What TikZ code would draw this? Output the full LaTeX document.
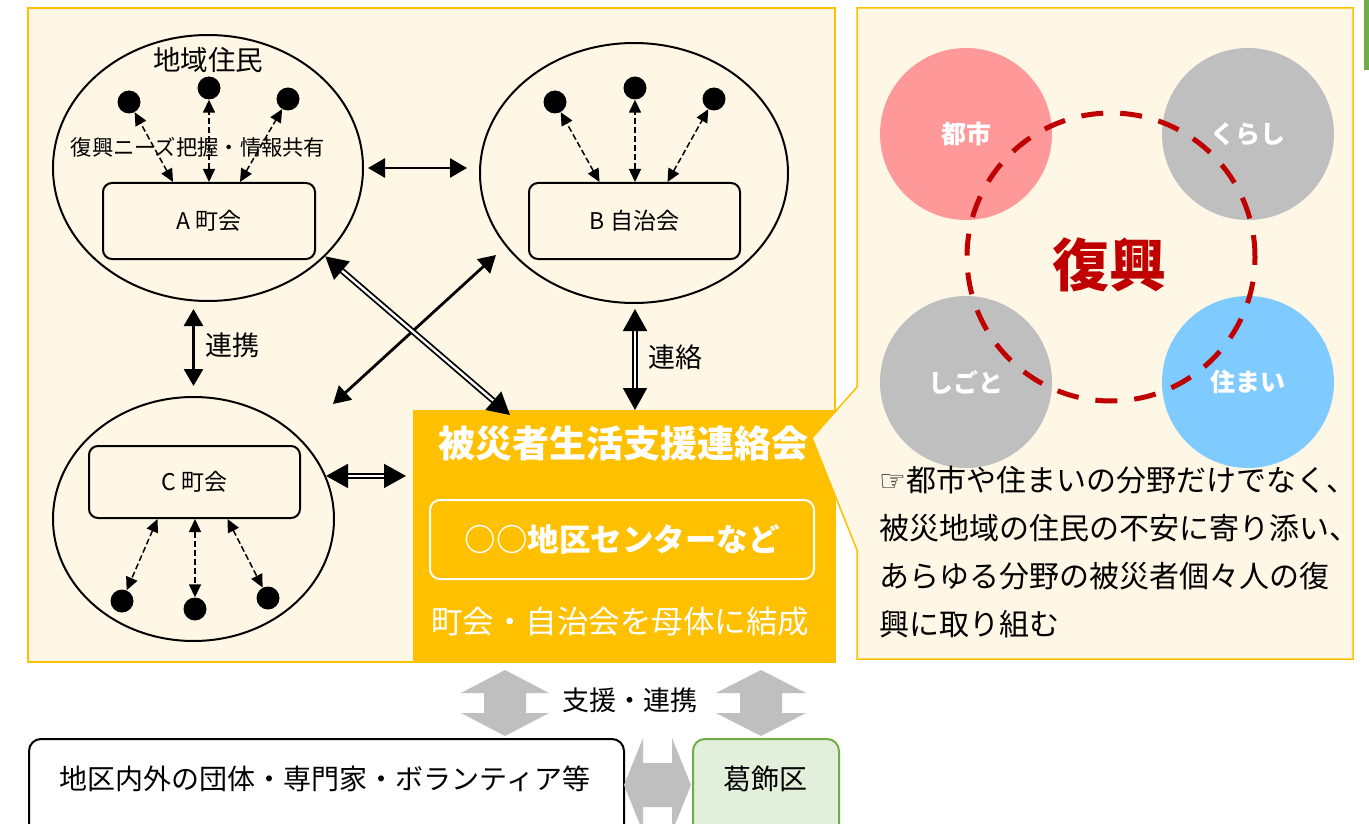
\documentclass[tikz,border=0pt]{standalone}
\usepackage{fontspec}
\setmainfont{Noto Sans CJK JP}
\newfontfamily\symfont{DejaVu Sans}
\usetikzlibrary{arrows.meta,shapes.geometric,calc,positioning}

\begin{document}
\begin{tikzpicture}[x=1pt,y=-1pt,
  every node/.style={inner sep=0pt},
  area/.style={ellipse,draw,line width=2pt},
  kai/.style={rectangle,draw,line width=2pt,rounded corners=9pt,font=\fontsize{23}{27}\selectfont},
  jumin/.style={circle,fill=black,minimum size=23pt},
  info/.style={dash pattern=on 6pt off 3pt,line width=1.5pt,{Triangle[length=13pt,width=12pt]}-{Triangle[length=13pt,width=12pt]}},
  link/.style={line width=2.8pt,{Triangle[length=17pt,width=19pt]}-{Triangle[length=17pt,width=19pt]}},
  dlink/.style={double,double distance=2.4pt,line width=1.8pt,{Triangle[length=22pt,width=24pt]}-{Triangle[length=22pt,width=24pt]}},
  bunya/.style={circle,minimum size=172pt,text=white,font=\fontsize{25}{28}\selectfont\bfseries}]

% ------------------------------------------------ theme colors
\definecolor{kr_cream}{RGB}{255,247,230}  %#FFF7E6
\definecolor{kr_orange}{RGB}{255,192,0}   %#FFC000
\definecolor{kr_pink}{RGB}{255,153,153}   %#FF9999
\definecolor{kr_gray}{RGB}{191,191,191}   %#BFBFBF
\definecolor{kr_blue}{RGB}{127,202,255}   %#7FCAFF
\definecolor{kr_red}{RGB}{192,0,0}        %#C00000
\definecolor{kr_green}{RGB}{112,173,71}   %#70AD47
\definecolor{kr_lgreen}{RGB}{226,239,218} %#E2EFDA

\useasboundingbox (0,0) rectangle (1369,824);
\fill[kr_green] (1364,0) rectangle (1369,70);

% ------------------------------------------------ left panel
\draw[fill=kr_cream,draw=kr_orange,line width=1.5pt] (28,8) rectangle (835,662);
\node[fill=kr_orange,minimum width=422pt,minimum height=252pt,anchor=north west] (org) at (413,410) {};

\node[area,minimum width=310pt,minimum height=266pt] (eA) at (208,168) {};
\node[area,minimum width=308pt,minimum height=260pt] (eB) at (634,173) {};
\node[area,minimum width=281pt,minimum height=244pt] (eC) at (193.5,519) {};

\node[kai,minimum width=212pt,minimum height=76pt] (kA) at (209,221) {A 町会};
\node[kai,minimum width=211pt,minimum height=76pt] (kB) at (634.5,221) {B 自治会};
\node[kai,minimum width=211pt,minimum height=72pt] (kC) at (194.5,482) {C 町会};

\node[font=\fontsize{27.5}{30}\selectfont] (jumin) at (208,60) {地域住民};
\node[font=\fontsize{21.3}{24}\selectfont] (needs) at (198,147) {復興ニーズ把握・情報共有};

\node[jumin] (a1) at (129,102) {};
\node[jumin] (a2) at (209,88) {};
\node[jumin] (a3) at (288,99) {};
\node[jumin] (b1) at (555,102) {};
\node[jumin] (b2) at (635,88) {};
\node[jumin] (b3) at (714,99) {};
\node[jumin] (c1) at (122,601) {};
\node[jumin] (c2) at (195,609) {};
\node[jumin] (c3) at (268,598) {};

\draw[info] ($(kA.north)+(-36,0)$) -- (a1);
\draw[info] (a2 |- kA.north) -- (a2);
\draw[info] ($(kA.north)+(31,0)$) -- (a3);
\draw[info] ($(kB.north)+(-35,0)$) -- (b1);
\draw[info] (b2 |- kB.north) -- (b2);
\draw[info] ($(kB.north)+(33,0)$) -- (b3);
\draw[info] ($(kC.south)+(-37,0)$) -- (c1);
\draw[info] (c2 |- kC.south) -- (c2);
\draw[info] ($(kC.south)+(33,0)$) -- (c3);

\draw[link] ([xshift=4pt]eA.east) -- ([xshift=-12pt]eB.west |- eA.east);
\draw[link] ([yshift=-7pt]eC.north |- eA.south) -- ([yshift=10pt]eC.north);
\node[anchor=west,font=\fontsize{27}{30}\selectfont] (renkei) at (205,345) {連携};

\coordinate (xb) at (496,255);
\coordinate (xc) at (333,404);
\draw[link] (xb) -- (xc);
\draw[dlink] (eA.-37) -- ([xshift=97pt,yshift=-5pt]org.north west);
\draw[dlink] ([xshift=1pt,yshift=-5pt]eB.south) -- ([xshift=1pt]eB.south |- org.north);
\node[anchor=west,font=\fontsize{27}{30}\selectfont] (renraku) at (648,357) {連絡};
\draw[dlink] (eC.18) -- ([xshift=-7pt]org.west |- eC.18);

% ------------------------------------------------ orange box
\node[text=white,font=\fontsize{37}{42}\selectfont\bfseries] (kaigi) at (623.5,443) {被災者生活支援連絡会};
\node[draw=white,line width=2pt,rounded corners=10pt,minimum width=384pt,minimum height=79pt,
      text=white,font=\fontsize{31.5}{35}\selectfont\bfseries] (center) at (622,539.5) {○○地区センターなど};
\node[text=white,font=\fontsize{31.5}{35}\selectfont] (kessei) at (620,622) {町会・自治会を母体に結成};

% ------------------------------------------------ right panel
\draw[fill=kr_cream,draw=kr_orange,line width=1.5pt] (857,8) -- (1353,8) -- (1353,659) -- (857,659)
      -- (857,550) -- (812,438) -- (857,387) -- cycle;

\node[bunya,fill=kr_pink] (toshi) at (966,134) {都市};
\node[bunya,fill=kr_gray] (kurashi) at (1248,134) {くらし};
\node[bunya,fill=kr_gray] (shigoto) at (966,382) {しごと};
\node[bunya,fill=kr_blue] (sumai) at (1248,382) {住まい};
\node[circle,draw=kr_red,line width=5pt,dash pattern=on 22pt off 17pt,minimum size=288pt] (ring) at (1111,257) {};
\node[text=kr_red,font=\fontsize{57}{60}\selectfont\bfseries] (fukko) at (1109,265) {復興};

\foreach \t [count=\i] in {{\symfont ☞}都市や住まいの分野だけでなく、,
                          被災地域の住民の不安に寄り添い、,
                          あらゆる分野の被災者個々人の復,
                          興に取り組む}
  \node[anchor=base west,font=\fontsize{30}{34}\selectfont] (memo\i) at (879,443+48*\i) {\t};

% ------------------------------------------------ bottom
\node[draw,line width=2pt,rounded corners=12pt,fill=white,minimum width=595pt,minimum height=100pt,anchor=north west] (dantai) at (28,738) {};
\node[font=\fontsize{28}{31}\selectfont] (dantaiT) at (325,779) {地区内外の団体・専門家・ボランティア等};
\node[draw=kr_green,line width=2pt,rounded corners=12pt,fill=kr_lgreen,minimum width=146pt,minimum height=100pt,anchor=north west] (ku) at (692,738) {};
\node[font=\fontsize{28}{31}\selectfont] (kuT) at (765,779) {葛飾区};

\fill[kr_gray] (505,670) -- (549,693) -- (526,693) -- (526,713) -- (549,713) -- (505,736)
      -- (461,713) -- (484,713) -- (484,693) -- (461,693) -- cycle;
\fill[kr_gray] (761,670) -- (806,693) -- (782,693) -- (782,713) -- (806,713) -- (761,736)
      -- (716,713) -- (740,713) -- (740,693) -- (716,693) -- cycle;
\fill[kr_gray] (624,785) -- (643,738) -- (643,763) -- (672,763) -- (672,738) -- (691,785)
      -- (672,832) -- (672,807) -- (643,807) -- (643,832) -- cycle;
\node[font=\fontsize{27}{30}\selectfont] (shien) at (630,700) {支援・連携};

\end{tikzpicture}
\end{document}
